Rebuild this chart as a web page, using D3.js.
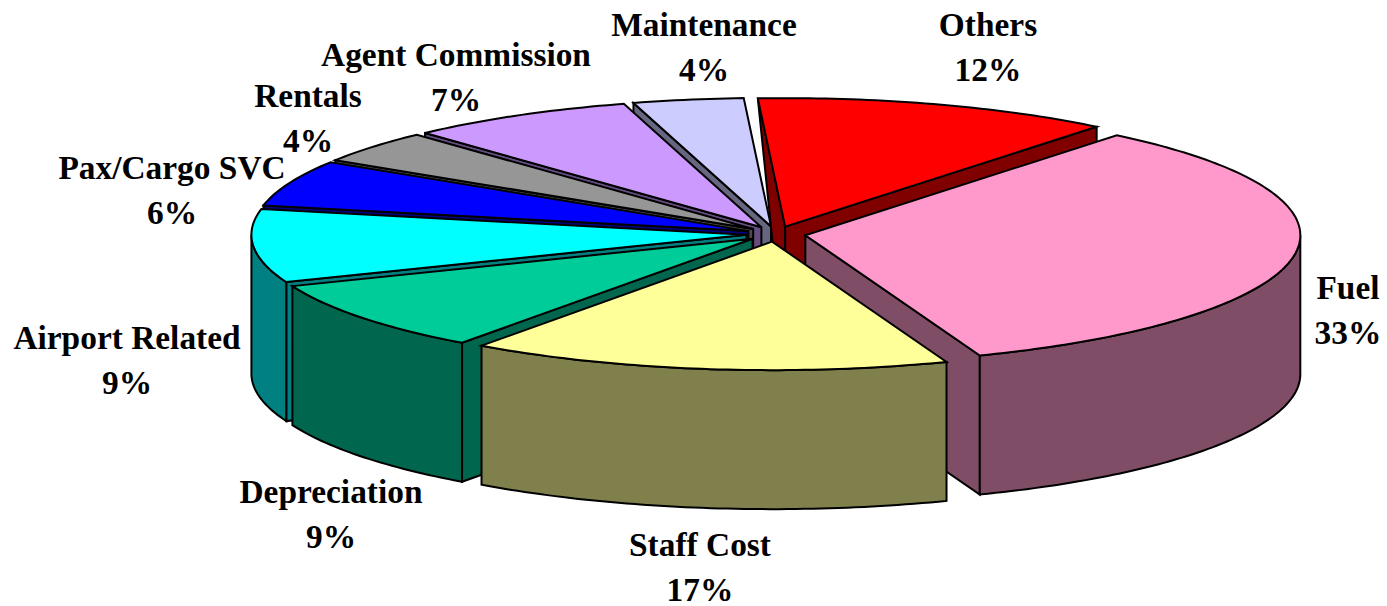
<!DOCTYPE html>
<html>
<head>
<meta charset="utf-8">
<script src="https://cdn.jsdelivr.net/npm/d3@7"></script>
<style>
  html, body { margin: 0; padding: 0; background: #fff; }
  svg { display: block; }
  .label { font-family: "Liberation Serif", serif; font-weight: bold; font-size: 33.4px; fill: #000; text-anchor: middle; }
</style>
</head>
<body>
<svg id="graphic-container" width="1387" height="606"></svg>
<script>
const categories = ["Fuel", "Staff Cost", "Depreciation", "Airport Related", "Pax/Cargo SVC", "Rentals", "Agent Commission", "Maintenance", "Others"];
// printed shares, as the chart labels them
const shareLabels = ["33%", "17%", "9%", "9%", "6%", "4%", "7%", "4%", "12%"];
// shares, these differ a little from the printed ones
const values = [33.4, 15.7, 9.0, 9.2, 5.8, 4.1, 7.4, 3.6, 11.7];
const topColors = ["#ff99cc", "#ffff99", "#00cc99", "#00ffff", "#0000ff", "#969696", "#cc99ff", "#ccccff", "#ff0000"];
const sideColors = ["#804d66", "#80804d", "#00664d", "#008080", "#000080", "#4b4b4b", "#664d80", "#666680", "#800000"];

// label anchors, same order as categories
const labelX = [1348, 700, 331, 127, 172, 308, 456, 704, 988];
const labelY = [299, 556, 503, 349, 179, 107, 66, 36, 36];
const lineGap = 45;

const centre = { x: 776, y: 234 },
  rx = 495,
  ry = 128.5,
  depth = 139,
  explode = 0.06,
  firstAngle = (39 * Math.PI) / 180;

const $svg = d3.select("#graphic-container");
const xScale = d3.scaleLinear().domain([-1, 1]).range([centre.x - rx, centre.x + rx]);
const yScale = d3.scaleLinear().domain([-1, 1]).range([centre.y - ry, centre.y + ry]);
const pathLine = d3.line();

const pie = d3.pie().sort(null).startAngle(firstAngle).endAngle(firstAngle + 2 * Math.PI);
const slices = pie(values).map((d, i) => {
  const mid = (d.startAngle + d.endAngle) / 2;
  return {
    i,
    a0: d.startAngle,
    a1: d.endAngle,
    mid,
    ox: explode * Math.sin(mid),
    oy: -explode * Math.cos(mid),
  };
});

function point(s, a, r = 1, drop = 0) {
  return [
    xScale(s.ox + r * Math.sin(a)),
    yScale(s.oy - r * Math.cos(a)) + drop,
  ];
}

function rim(s, a0, a1, drop = 0) {
  const n = Math.max(2, Math.ceil(((a1 - a0) * 180) / Math.PI));
  return d3.range(n + 1).map((k) => point(s, a0 + ((a1 - a0) * k) / n, 1, drop));
}

function wall(s, a) {
  // a cut almost straight up the back tapers to nothing at the rim
  const rimDrop = Math.abs(Math.sin(a)) < 0.1 ? 0 : depth;
  return pathLine([point(s, a, 0), point(s, a), point(s, a, 1, rimDrop), point(s, a, 0, depth)]) + "Z";
}

const pieGroup = $svg.append("g").attr("id", "pie-group");

// back slices first, front slices paint over them
slices
  .slice()
  .sort((p, q) => d3.descending(Math.cos(p.mid), Math.cos(q.mid)))
  .forEach((s) => {
    const g = pieGroup
      .append("g")
      .attr("stroke", "#000")
      .attr("stroke-width", 2)
      .attr("stroke-linejoin", "miter");

    // cut faces, only those turned to the viewer
    if (Math.sin(s.a0) < 0) {
      g.append("path").attr("d", wall(s, s.a0)).attr("fill", sideColors[s.i]);
    }
    if (Math.sin(s.a1) > 0) {
      g.append("path").attr("d", wall(s, s.a1)).attr("fill", sideColors[s.i]);
    }

    // outer face, front half of the ellipse only
    const from = Math.max(s.a0, Math.PI / 2),
      to = Math.min(s.a1, 1.5 * Math.PI);
    if (from < to) {
      const pts = rim(s, from, to).concat(rim(s, from, to, depth).reverse());
      g.append("path").attr("d", pathLine(pts) + "Z").attr("fill", sideColors[s.i]);
    }

    g.append("path")
      .attr("d", pathLine([point(s, s.a0, 0)].concat(rim(s, s.a0, s.a1))) + "Z")
      .attr("fill", topColors[s.i]);
  });

const labelGroup = $svg.append("g").attr("id", "label-group");
categories.forEach((name, i) => {
  labelGroup.append("text").attr("class", "label").attr("x", labelX[i]).attr("y", labelY[i]).text(name);
  labelGroup.append("text").attr("class", "label").attr("x", labelX[i]).attr("y", labelY[i] + lineGap).text(shareLabels[i]);
});
</script>
</body>
</html>
